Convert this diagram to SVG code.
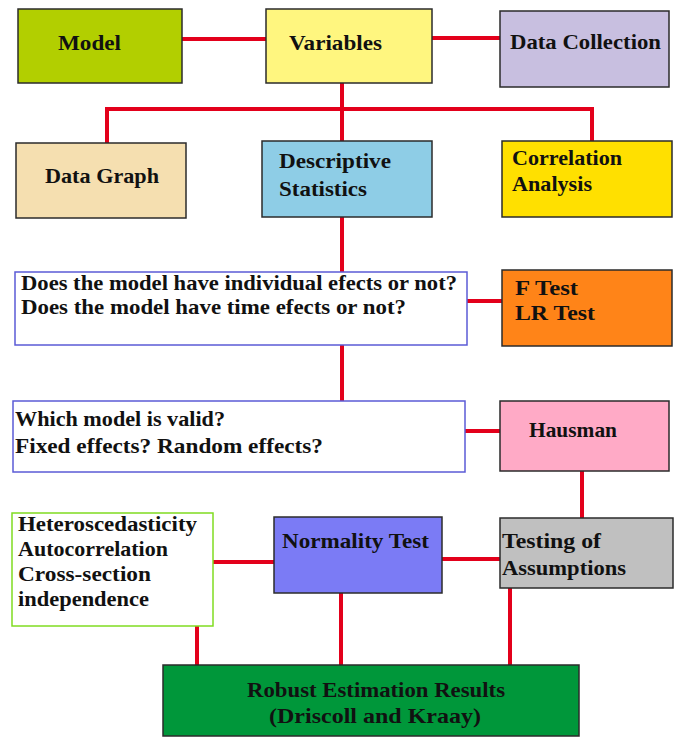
<svg xmlns="http://www.w3.org/2000/svg" width="675" height="737" viewBox="0 0 675 737">
<style>
.box{stroke:#2b2b2b;stroke-width:1.5}
.q{fill:#fff;stroke:#5b5bd6;stroke-width:1.5}
.g{fill:#fff;stroke:#80dc20;stroke-width:1.5}
.t{font-family:"Liberation Serif","Times New Roman",serif;font-weight:bold;font-size:21px;fill:#111}
.c{stroke:#e3001b;stroke-width:4;fill:none}
</style>
<rect width="675" height="737" fill="#fff"/>
<g id="connectors">
<line class="c" x1="182" y1="39" x2="266" y2="39"/>
<line class="c" x1="432" y1="38" x2="500" y2="38"/>
<line class="c" x1="342" y1="83" x2="342" y2="141"/>
<polyline class="c" points="107,143 107,109 592,109 592,141"/>
<line class="c" x1="342" y1="217" x2="342" y2="272"/>
<line class="c" x1="467" y1="301" x2="502" y2="301"/>
<line class="c" x1="342" y1="345" x2="342" y2="401"/>
<line class="c" x1="465" y1="431" x2="500" y2="431"/>
<line class="c" x1="582" y1="471" x2="582" y2="518"/>
<line class="c" x1="442" y1="559" x2="500" y2="559"/>
<line class="c" x1="213" y1="562" x2="274" y2="562"/>
<line class="c" x1="197" y1="626" x2="197" y2="665"/>
<line class="c" x1="341" y1="593" x2="341" y2="665"/>
<line class="c" x1="510" y1="588" x2="510" y2="665"/>
</g>
<g id="model"><rect class="box" x="18" y="9" width="164" height="74" fill="#b2cf00"/><text class="t" x="58" y="50" textLength="63" lengthAdjust="spacingAndGlyphs">Model</text></g>
<g id="variables"><rect class="box" x="266" y="9" width="166" height="74" fill="#fff67f"/><text class="t" x="289" y="50" textLength="93" lengthAdjust="spacingAndGlyphs">Variables</text></g>
<g id="data-collection"><rect class="box" x="500" y="11" width="169" height="76" fill="#c8bfe0"/><text class="t" x="510" y="49" textLength="151" lengthAdjust="spacingAndGlyphs">Data Collection</text></g>
<g id="data-graph"><rect class="box" x="16" y="143" width="170" height="75" fill="#f5dfb0"/><text class="t" x="45" y="183" textLength="114" lengthAdjust="spacingAndGlyphs">Data Graph</text></g>
<g id="descriptive"><rect class="box" x="262" y="141" width="170" height="76" fill="#8ecde6"/><text class="t" x="279" y="168" textLength="112" lengthAdjust="spacingAndGlyphs">Descriptive</text><text class="t" x="279" y="196" textLength="88" lengthAdjust="spacingAndGlyphs">Statistics</text></g>
<g id="correlation"><rect class="box" x="502" y="141" width="170" height="76" fill="#ffe000"/><text class="t" x="512" y="165" textLength="110" lengthAdjust="spacingAndGlyphs">Correlation</text><text class="t" x="512" y="191" textLength="80" lengthAdjust="spacingAndGlyphs">Analysis</text></g>
<g id="effects-question"><rect class="q" x="15" y="272" width="452" height="73"/><text class="t" x="21" y="290" textLength="436" lengthAdjust="spacingAndGlyphs">Does the model have individual efects or not?</text><text class="t" x="21" y="314" textLength="385" lengthAdjust="spacingAndGlyphs">Does the model have time efects or not?</text></g>
<g id="f-test"><rect class="box" x="502" y="270" width="170" height="76" fill="#ff8418"/><text class="t" x="515" y="295" textLength="63" lengthAdjust="spacingAndGlyphs">F Test</text><text class="t" x="515" y="320" textLength="80" lengthAdjust="spacingAndGlyphs">LR Test</text></g>
<g id="model-question"><rect class="q" x="13" y="401" width="452" height="71"/><text class="t" x="15" y="426" textLength="210" lengthAdjust="spacingAndGlyphs">Which model is valid?</text><text class="t" x="15" y="453" textLength="308" lengthAdjust="spacingAndGlyphs">Fixed effects? Random effects?</text></g>
<g id="hausman"><rect class="box" x="500" y="401" width="169" height="70" fill="#ffaac6"/><text class="t" x="529" y="437" textLength="88" lengthAdjust="spacingAndGlyphs">Hausman</text></g>
<g id="diagnostics"><rect class="g" x="12" y="513" width="201" height="113"/><text class="t" x="18" y="531" textLength="179" lengthAdjust="spacingAndGlyphs">Heteroscedasticity</text><text class="t" x="18" y="556" textLength="150" lengthAdjust="spacingAndGlyphs">Autocorrelation</text><text class="t" x="18" y="581" textLength="133" lengthAdjust="spacingAndGlyphs">Cross-section</text><text class="t" x="18" y="606" textLength="131" lengthAdjust="spacingAndGlyphs">independence</text></g>
<g id="normality"><rect class="box" x="274" y="517" width="168" height="76" fill="#7b7bf5"/><text class="t" x="282" y="548" textLength="147" lengthAdjust="spacingAndGlyphs">Normality Test</text></g>
<g id="testing"><rect class="box" x="500" y="518" width="173" height="70" fill="#c0c0c0"/><text class="t" x="502" y="548" textLength="99" lengthAdjust="spacingAndGlyphs">Testing of</text><text class="t" x="502" y="575" textLength="124" lengthAdjust="spacingAndGlyphs">Assumptions</text></g>
<g id="robust"><rect class="box" x="163" y="665" width="416" height="71" fill="#00973a"/><text class="t" x="247" y="697" textLength="258" lengthAdjust="spacingAndGlyphs">Robust Estimation Results</text><text class="t" x="269" y="723" textLength="212" lengthAdjust="spacingAndGlyphs">(Driscoll and Kraay)</text></g>
</svg>
